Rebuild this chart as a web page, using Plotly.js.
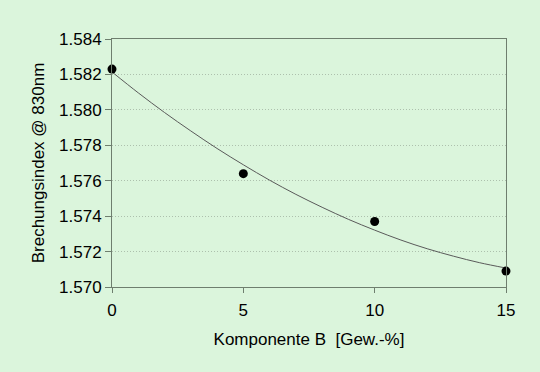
<!DOCTYPE html>
<html>
<head>
<meta charset="utf-8">
<script src="https://cdn.plot.ly/plotly-3.0.1.min.js"></script>
<style>html,body{margin:0;padding:0;background:#dbf5dc;}#chart{width:540px;height:372px;}</style>
</head>
<body>
<div id="chart"></div>
<script>
var pointX = [0, 5, 10, 15];
var pointY = [1.5823, 1.5764, 1.5737, 1.5709];
var curveX = [0, 1, 2, 3, 4, 5, 6, 7, 8, 9, 10, 11, 12, 13, 14, 15];
var curveY = [1.58214, 1.58096, 1.57985, 1.57881, 1.57782, 1.57690, 1.57603, 1.57523, 1.57450, 1.57382, 1.57321, 1.57265, 1.57216, 1.57174, 1.57137, 1.57107];
var xTitle = "Komponente B  [Gew.-%]";
var yTitle = "Brechungsindex @ 830nm";

var traces = [
  {x: curveX, y: curveY, mode: 'lines', line: {color: '#5a5a5a', width: 1, shape: 'spline'}, hoverinfo: 'skip', cliponaxis: false},
  {x: pointX, y: pointY, mode: 'markers', marker: {color: '#000000', size: 9}, cliponaxis: false}
];
var fam = 'Liberation Sans, Arial, sans-serif';
var tickFont = {family: fam, size: 17, color: '#000'};
var titleFont = {family: fam, size: 17, color: '#000'};
var layout = {
  width: 540, height: 372,
  paper_bgcolor: '#dbf5dc', plot_bgcolor: '#dbf5dc',
  showlegend: false,
  margin: {l: 112, r: 34, t: 39, b: 85},
  font: tickFont,
  xaxis: {
    range: [0, 15], dtick: 5, tick0: 0,
    showline: true, linecolor: '#6e7e6e', linewidth: 1, mirror: true,
    ticks: 'outside', ticklen: 5, tickcolor: '#6e7e6e',
    ticklabelstandoff: 3,
    showgrid: false, zeroline: false,
    tickfont: tickFont,
    title: {text: xTitle, font: titleFont, standoff: 13}
  },
  yaxis: {
    range: [1.570, 1.584], dtick: 0.002, tick0: 1.570, tickformat: '.3f',
    showline: true, linecolor: '#6e7e6e', linewidth: 1, mirror: true,
    ticks: 'outside', ticklen: 6, tickcolor: '#6e7e6e',
    showgrid: true, gridcolor: '#adc0ad', griddash: '1px,2px', gridwidth: 1,
    zeroline: false,
    tickfont: tickFont,
    title: {text: yTitle, font: titleFont, standoff: 10}
  }
};
Plotly.newPlot('chart', traces, layout, {displayModeBar: false, staticPlot: true});
</script>
</body>
</html>
